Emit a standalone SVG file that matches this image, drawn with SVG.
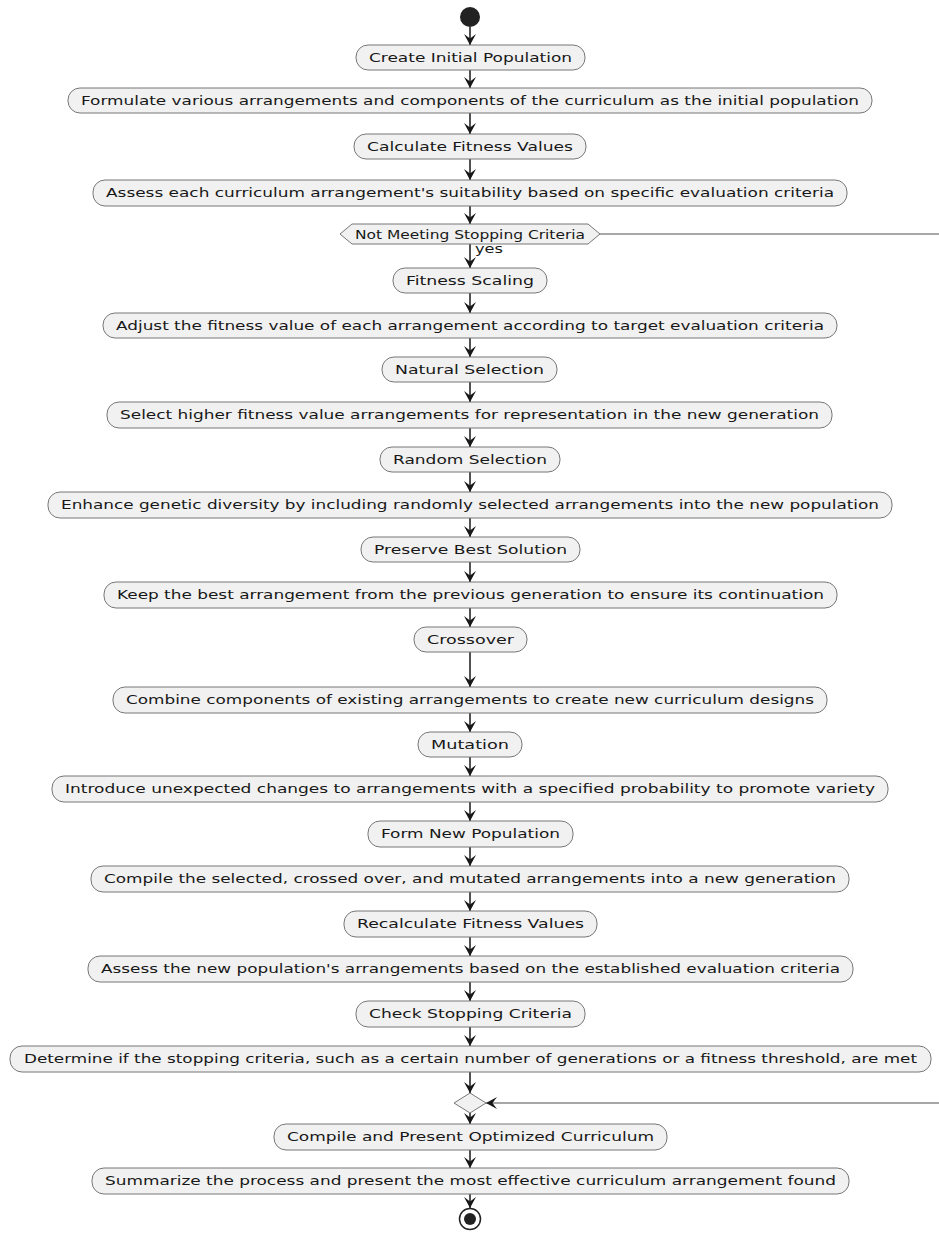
<svg xmlns="http://www.w3.org/2000/svg" width="939" height="1237" viewBox="0 0 939 1237">
  <style>
    .act rect { fill: #F1F1F1; stroke: #777777; stroke-width: 1; }
    .act text, .dec text { font-family: "DejaVu Sans", Verdana, sans-serif; font-size: 13px; fill: #181818; text-anchor: middle; }
    .dec polygon { fill: #F1F1F1; stroke: #777777; stroke-width: 1; }
    .edges line, .edges polyline { stroke: #181818; stroke-width: 1.5; fill: none; }
    .edges .h { stroke: #8a8a8a; stroke-width: 1.4; }
    .lbl { font-family: "DejaVu Sans", Verdana, sans-serif; font-size: 11.5px; fill: #181818; }
  </style>
  <defs>
    <marker id="arrow" viewBox="0 -6 11 12" refX="11" refY="0" markerWidth="11" markerHeight="12" markerUnits="userSpaceOnUse" orient="auto">
      <path d="M0,-6 L11,0 L0,6 L4.5,0 Z" fill="#181818"/>
    </marker>
  </defs>
  <rect width="939" height="1237" fill="#FFFFFF"/>

  <!-- connectors -->
  <g class="edges">
    <line x1="470" y1="27" x2="470" y2="45" marker-end="url(#arrow)"/>
    <line x1="470" y1="70" x2="470" y2="88" marker-end="url(#arrow)"/>
    <line x1="470" y1="113" x2="470" y2="134" marker-end="url(#arrow)"/>
    <line x1="470" y1="159" x2="470" y2="180" marker-end="url(#arrow)"/>
    <line x1="470" y1="206" x2="470" y2="224" marker-end="url(#arrow)"/>
    <line x1="470" y1="244" x2="470" y2="268" marker-end="url(#arrow)"/>
    <line x1="470" y1="293" x2="470" y2="313" marker-end="url(#arrow)"/>
    <line x1="470" y1="338" x2="470" y2="357" marker-end="url(#arrow)"/>
    <line x1="470" y1="382" x2="470" y2="402" marker-end="url(#arrow)"/>
    <line x1="470" y1="428" x2="470" y2="447" marker-end="url(#arrow)"/>
    <line x1="470" y1="472" x2="470" y2="492" marker-end="url(#arrow)"/>
    <line x1="470" y1="518" x2="470" y2="537" marker-end="url(#arrow)"/>
    <line x1="470" y1="562" x2="470" y2="582" marker-end="url(#arrow)"/>
    <line x1="470" y1="608" x2="470" y2="627" marker-end="url(#arrow)"/>
    <line x1="470" y1="652" x2="470" y2="687" marker-end="url(#arrow)"/>
    <line x1="470" y1="713" x2="470" y2="732" marker-end="url(#arrow)"/>
    <line x1="470" y1="757" x2="470" y2="776" marker-end="url(#arrow)"/>
    <line x1="470" y1="802" x2="470" y2="821" marker-end="url(#arrow)"/>
    <line x1="470" y1="847" x2="470" y2="866" marker-end="url(#arrow)"/>
    <line x1="470" y1="892" x2="470" y2="911" marker-end="url(#arrow)"/>
    <line x1="470" y1="937" x2="470" y2="956" marker-end="url(#arrow)"/>
    <line x1="470" y1="982" x2="470" y2="1001" marker-end="url(#arrow)"/>
    <line x1="470" y1="1027" x2="470" y2="1046" marker-end="url(#arrow)"/>
    <line x1="470" y1="1072" x2="470" y2="1093" marker-end="url(#arrow)"/>
    <line x1="470" y1="1113" x2="470" y2="1124" marker-end="url(#arrow)"/>
    <line x1="470" y1="1150" x2="470" y2="1168" marker-end="url(#arrow)"/>
    <line x1="470" y1="1194" x2="470" y2="1208" marker-end="url(#arrow)"/>
    <!-- loop exit from the stopping test, back in at the merge -->
    <line class="h" x1="600" y1="234" x2="939" y2="234"/>
    <line class="h" x1="939" y1="1103" x2="486" y2="1103" marker-end="url(#arrow)"/>
    <text class="lbl" x="475" y="253" textLength="28" lengthAdjust="spacingAndGlyphs">yes</text>
  </g>

  <!-- start -->
  <g id="start"><circle cx="470" cy="17" r="10" fill="#222222"/></g>

  <g id="n1" class="act"><rect x="356" y="45" width="229" height="25" rx="12"/><text x="470.5" y="61.5" textLength="203" lengthAdjust="spacingAndGlyphs">Create Initial Population</text></g>
  <g id="n2" class="act"><rect x="68" y="88" width="804" height="25" rx="12"/><text x="470" y="104.5" textLength="778" lengthAdjust="spacingAndGlyphs">Formulate various arrangements and components of the curriculum as the initial population</text></g>
  <g id="n3" class="act"><rect x="354" y="134" width="232" height="25" rx="12"/><text x="470" y="150.5" textLength="206" lengthAdjust="spacingAndGlyphs">Calculate Fitness Values</text></g>
  <g id="n4" class="act"><rect x="93" y="180" width="754" height="26" rx="12"/><text x="470" y="197" textLength="728" lengthAdjust="spacingAndGlyphs">Assess each curriculum arrangement's suitability based on specific evaluation criteria</text></g>

  <g id="d1" class="dec"><polygon points="340,234 352,224 588,224 600,234 588,244 352,244"/><text x="470" y="238.5" textLength="230" lengthAdjust="spacingAndGlyphs">Not Meeting Stopping Criteria</text></g>

  <g id="n5" class="act"><rect x="393" y="268" width="154" height="25" rx="12"/><text x="470" y="284.5" textLength="128" lengthAdjust="spacingAndGlyphs">Fitness Scaling</text></g>
  <g id="n6" class="act"><rect x="103" y="313" width="734" height="25" rx="12"/><text x="470" y="329.5" textLength="708" lengthAdjust="spacingAndGlyphs">Adjust the fitness value of each arrangement according to target evaluation criteria</text></g>
  <g id="n7" class="act"><rect x="382" y="357" width="175" height="25" rx="12"/><text x="469.5" y="373.5" textLength="149" lengthAdjust="spacingAndGlyphs">Natural Selection</text></g>
  <g id="n8" class="act"><rect x="107" y="402" width="725" height="26" rx="12"/><text x="469.5" y="419" textLength="699" lengthAdjust="spacingAndGlyphs">Select higher fitness value arrangements for representation in the new generation</text></g>
  <g id="n9" class="act"><rect x="380" y="447" width="180" height="25" rx="12"/><text x="470" y="463.5" textLength="154" lengthAdjust="spacingAndGlyphs">Random Selection</text></g>
  <g id="n10" class="act"><rect x="48" y="492" width="844" height="26" rx="12"/><text x="470" y="509" textLength="818" lengthAdjust="spacingAndGlyphs">Enhance genetic diversity by including randomly selected arrangements into the new population</text></g>
  <g id="n11" class="act"><rect x="361" y="537" width="219" height="25" rx="12"/><text x="470.5" y="553.5" textLength="193" lengthAdjust="spacingAndGlyphs">Preserve Best Solution</text></g>
  <g id="n12" class="act"><rect x="104" y="582" width="733" height="26" rx="12"/><text x="470.5" y="599" textLength="707" lengthAdjust="spacingAndGlyphs">Keep the best arrangement from the previous generation to ensure its continuation</text></g>
  <g id="n13" class="act"><rect x="414" y="627" width="113" height="25" rx="12"/><text x="470.5" y="643.5" textLength="87" lengthAdjust="spacingAndGlyphs">Crossover</text></g>
  <g id="n14" class="act"><rect x="113" y="687" width="714" height="26" rx="12"/><text x="470" y="704" textLength="688" lengthAdjust="spacingAndGlyphs">Combine components of existing arrangements to create new curriculum designs</text></g>
  <g id="n15" class="act"><rect x="418" y="732" width="104" height="25" rx="12"/><text x="470" y="748.5" textLength="78" lengthAdjust="spacingAndGlyphs">Mutation</text></g>
  <g id="n16" class="act"><rect x="52" y="776" width="836" height="26" rx="12"/><text x="470" y="793" textLength="810" lengthAdjust="spacingAndGlyphs">Introduce unexpected changes to arrangements with a specified probability to promote variety</text></g>
  <g id="n17" class="act"><rect x="368" y="821" width="205" height="26" rx="12"/><text x="470.5" y="838" textLength="179" lengthAdjust="spacingAndGlyphs">Form New Population</text></g>
  <g id="n18" class="act"><rect x="91" y="866" width="758" height="26" rx="12"/><text x="470" y="883" textLength="732" lengthAdjust="spacingAndGlyphs">Compile the selected, crossed over, and mutated arrangements into a new generation</text></g>
  <g id="n19" class="act"><rect x="344" y="911" width="253" height="26" rx="12"/><text x="470.5" y="928" textLength="227" lengthAdjust="spacingAndGlyphs">Recalculate Fitness Values</text></g>
  <g id="n20" class="act"><rect x="88" y="956" width="765" height="26" rx="12"/><text x="470.5" y="973" textLength="739" lengthAdjust="spacingAndGlyphs">Assess the new population's arrangements based on the established evaluation criteria</text></g>
  <g id="n21" class="act"><rect x="356" y="1001" width="229" height="26" rx="12"/><text x="470.5" y="1018" textLength="203" lengthAdjust="spacingAndGlyphs">Check Stopping Criteria</text></g>
  <g id="n22" class="act"><rect x="10" y="1046" width="921" height="26" rx="12"/><text x="470.5" y="1063" textLength="893" lengthAdjust="spacingAndGlyphs">Determine if the stopping criteria, such as a certain number of generations or a fitness threshold, are met</text></g>

  <g id="merge" class="dec"><polygon points="454,1103 470,1093 486,1103 470,1113"/></g>

  <g id="n23" class="act"><rect x="274" y="1124" width="393" height="26" rx="12"/><text x="470.5" y="1141" textLength="367" lengthAdjust="spacingAndGlyphs">Compile and Present Optimized Curriculum</text></g>
  <g id="n24" class="act"><rect x="92" y="1168" width="757" height="26" rx="12"/><text x="470.5" y="1185" textLength="731" lengthAdjust="spacingAndGlyphs">Summarize the process and present the most effective curriculum arrangement found</text></g>

  <!-- end -->
  <g id="end">
    <circle cx="470" cy="1219" r="10.5" fill="#FFFFFF" stroke="#222222" stroke-width="1.5"/>
    <circle cx="470" cy="1219" r="6" fill="#222222"/>
  </g>
</svg>
